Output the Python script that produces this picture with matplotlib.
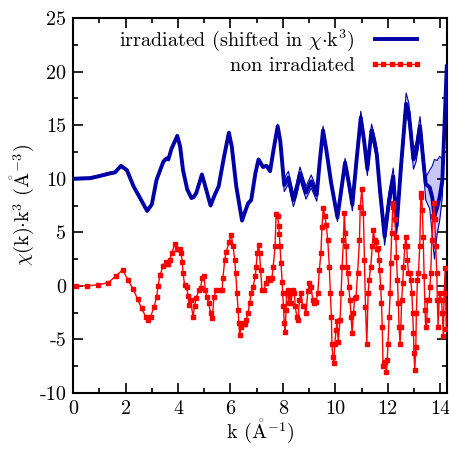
import numpy as np
import matplotlib
matplotlib.use('Agg')
import matplotlib.pyplot as plt
from matplotlib.lines import Line2D

plt.rcParams['font.family'] = ['cmr10', 'DejaVu Serif']
plt.rcParams['mathtext.fontset'] = 'cm'
plt.rcParams['axes.unicode_minus'] = False
plt.rcParams['axes.formatter.use_mathtext'] = False

# irradiated sample (already shifted by +10 in chi*k^3)
blue_k = [0.0, 0.64, 1.0, 1.4, 1.6, 1.82, 2.05, 2.3, 2.55, 2.82, 3.0, 3.18, 3.44, 3.56,
          3.63, 3.75, 3.97, 4.08, 4.19, 4.35, 4.51, 4.6, 4.7, 4.91, 5.05, 5.24, 5.4, 5.55,
          5.75, 5.94, 6.05, 6.22, 6.44, 6.67, 6.79, 6.95, 7.07, 7.24, 7.38, 7.51, 7.65,
          7.8, 7.9, 8.05, 8.21, 8.4, 8.52, 8.65, 8.88, 9.08, 9.29, 9.4, 9.53, 9.65, 9.84,
          10.08, 10.2, 10.37, 10.5, 10.65, 10.8, 10.97, 11.1, 11.22, 11.38, 11.48, 11.58,
          11.7, 11.88, 12.05, 12.21, 12.34, 12.5, 12.7, 12.8, 12.98, 13.08, 13.23, 13.36,
          13.45, 13.6, 13.7, 13.78, 13.88, 13.98, 14.08, 14.18, 14.25]
blue_y = [10.0, 10.05, 10.25, 10.5, 10.6, 11.2, 10.8, 9.3, 8.2, 7.0, 7.6, 9.9, 11.6, 11.9,
          11.8, 12.8, 14.0, 13.0, 10.8, 9.0, 8.2, 8.3, 8.7, 10.4, 9.2, 7.5, 8.5, 9.3,
          12.0, 14.3, 13.0, 9.3, 6.1, 7.7, 8.0, 10.5, 11.8, 11.1, 11.2, 10.7, 12.8,
          14.9, 13.5, 9.4, 10.1, 8.0, 9.0, 10.5, 8.7, 9.75, 8.5, 11.5, 14.5, 12.8, 9.6,
          6.4, 8.5, 11.5, 9.8, 7.6, 11.5, 15.7, 13.5, 10.9, 14.5, 13.6, 12.3,
          9.0, 4.6, 8.0, 10.2, 5.6, 11.0, 17.0, 16.2, 11.8, 12.5, 14.9, 11.6,
          9.5, 9.2, 8.2, 6.5, 7.3, 8.3, 9.8, 16.0, 20.5]
blue_dn = [0.1] * 40 + [0.2, 0.2, 0.2, 0.6, 0.6, 0.6, 0.6, 0.6, 0.6, 0.6, 0.6, 0.4, 0.4,
           0.4, 0.4, 0.4, 0.4, 0.4, 0.5, 0.6, 0.6, 0.6, 0.6, 0.6, 0.6, 0.6, 0.6, 0.8, 0.8,
           0.8, 0.8, 0.8, 0.9, 1.0, 0.9, 0.9, 0.9, 0.9, 0.9, 1.5, 2.0, 3.5, 4.0, 2.5,
           2.2, 1.5, 0.8, 0.5]
blue_up = [0.1] * 40 + [0.2, 0.2, 0.2, 0.6, 0.6, 0.6, 0.6, 0.6, 0.6, 0.6, 0.6, 0.4, 0.4,
           0.4, 0.4, 0.4, 0.4, 0.4, 0.5, 0.6, 0.6, 0.6, 0.6, 0.6, 0.6, 0.6, 0.6, 0.8, 0.8,
           0.8, 0.8, 0.8, 0.9, 1.0, 0.9, 0.9, 0.9, 0.9, 0.9, 0.6, 1.6, 3.0, 5.3, 4.4,
           3.8, 2.0, 0.8, 0.5]

# non irradiated sample
red_k = [0.1, 0.51, 0.95, 1.34, 1.63, 1.89, 2.08, 2.29, 2.46, 2.61, 2.77, 2.86, 2.95,
         3.08, 3.18, 3.24, 3.31, 3.44, 3.53, 3.63, 3.68, 3.77, 3.87, 3.97, 4.06, 4.12,
         4.16, 4.19, 4.25, 4.33, 4.38, 4.42, 4.48, 4.57, 4.63, 4.69, 4.79, 4.86, 4.92,
         4.99, 5.04, 5.1, 5.17, 5.24, 5.31, 5.37, 5.46, 5.59, 5.68, 5.71, 5.78, 5.84,
         5.94, 6.03, 6.1, 6.16, 6.2, 6.25, 6.29, 6.32, 6.35, 6.41, 6.48, 6.54, 6.6,
         6.67, 6.73, 6.79, 6.86, 6.95, 6.98, 7.02, 7.07, 7.11, 7.15, 7.2, 7.28, 7.37,
         7.42, 7.51, 7.58, 7.63, 7.7, 7.74, 7.8, 7.84, 7.86, 7.89, 7.93, 7.97, 7.99,
         8.02, 8.05, 8.08, 8.12, 8.14, 8.18, 8.22, 8.27, 8.31, 8.37, 8.44, 8.47, 8.53,
         8.58, 8.63, 8.69, 8.76, 8.82, 8.88, 8.95, 9.01, 9.07, 9.14, 9.2, 9.26, 9.33,
         9.39, 9.45, 9.49, 9.54, 9.6, 9.65, 9.71, 9.77, 9.81, 9.85, 9.87, 9.9, 9.94,
         9.98, 10.03, 10.06, 10.11, 10.18, 10.22, 10.26, 10.31, 10.34, 10.38, 10.41,
         10.43, 10.47, 10.51, 10.56, 10.6, 10.64, 10.69, 10.74, 10.79, 10.85, 10.92,
         10.95, 11.01, 11.07, 11.11, 11.15, 11.2, 11.25, 11.29, 11.35, 11.41, 11.45,
         11.5, 11.54, 11.58, 11.63, 11.67, 11.69, 11.73, 11.76, 11.79, 11.82, 11.86,
         11.9, 11.95, 11.98, 12.01, 12.05, 12.09, 12.11, 12.15, 12.19, 12.21, 12.27,
         12.31, 12.33, 12.37, 12.4, 12.43, 12.47, 12.5, 12.53, 12.57, 12.6, 12.65,
         12.69, 12.72, 12.75, 12.79, 12.84, 12.88, 12.92, 12.95, 12.98, 13.0, 13.03,
         13.07, 13.09, 13.13, 13.17, 13.22, 13.26, 13.28, 13.32, 13.35, 13.39, 13.42,
         13.45, 13.49, 13.51, 13.58, 13.61, 13.64, 13.68, 13.72, 13.77, 13.79, 13.83,
         13.87, 13.89, 13.92, 13.96, 13.99, 14.05, 14.08, 14.12, 14.15, 14.19, 14.23]
red_y = [0.0, 0.0, 0.1, 0.3, 0.93, 1.5, 0.56, -0.3, -1.25, -2.1, -2.9, -3.2, -2.9,
         -2.0, -1.06, 0.0, 1.0, 1.9, 2.2, 2.0, 2.43, 3.1, 3.9, 3.4, 3.4, 3.05,
         2.2, 1.2, 0.06, -0.06, -0.93, -1.8, -1.3, -2.9, -1.9, -1.15, -0.4, -0.2, 0.7,
         0.9, -0.37, -1.06, -1.6, -2.55, -3.0, -1.0, -0.37, -0.37, -0.37, 0.7, 2.4, 3.2,
         4.05, 4.77, 3.7, 2.43, 1.2, -0.7, -2.24, -3.5, -4.6, -3.8, -3.5, -3.6, -3.2,
         -2.5, -1.6, -0.7, -0.06, 0.9, 1.8, 3.05, 3.8, 3.05, 1.5, -0.37, -0.37, 0.3,
         0.7, 0.56, 0.7, 1.8, 3.7, 6.7, 6.5, 5.6, 4.86, 3.7, 2.1, 0.4, -0.7,
         -1.9, -3.5, -4.3, -2.24, -0.7, -0.37, -1.6, -0.7, -1.56, -0.37, -0.7, -1.9, -2.9,
         -3.2, -1.3, -0.7, -1.9, -1.9, -2.55, -0.5, 0.25, -0.06, -1.3, -1.6, -1.5, -0.7,
         1.5, 3.05, 5.5, 7.3, 6.5, 5.7, 4.3, 1.8, -0.7, -2.9, -5.4, -6.6, -7.2,
         -5.4, -4.1, -3.3, -5.2, -3.2, -0.7, 1.8, 4.3, 6.8, 4.9, 3.7,
         1.8, 1.2, -0.06, -1.3, -2.9, -4.4, -2.55, -1.15, -1.0, 1.2, 4.3,
         7.4, 9.0, 6.8, 2.4, -2.0, -5.4, -0.7, 0.56, 1.8, 3.7, 5.2,
         4.3, 4.1, 3.4, 3.5, 2.4, 1.5, -0.06, -1.6, -3.8, -7.5, -7.2,
         -7.1, -8.0, -6.9, -5.4, -2.9, -0.7, 2.1, 4.9, 7.4, 7.7, 6.2,
         4.6, 2.7, 0.56, -1.6, -3.8, -5.4, -3.8, -1.3, 0.25, 1.8, 3.7,
         4.6, 3.7, 2.4, 1.2, 1.2, 0.56, -0.7, -2.55, -4.4, -6.3, -7.85,
         -5.7, -2.55, 0.56, 1.2, 3.7, 8.3, 8.7, 7.1, 4.6, 0.9, -2.24,
         -3.8, -3.2, -1.3, -1.3, -0.06, 1.2, 4.3, 6.5, 7.7, 6.2, 3.7,
         1.2, -1.3, -3.8, -1.3, -0.7, -1.3, -2.55, -4.7, -0.7, 1.65, -4.0]
red_err = 0.1

x_ticks = [0, 2, 4, 6, 8, 10, 12, 14]
y_ticks = [-10, -5, 0, 5, 10, 15, 20, 25]

FS = 14.5
BLUE = '#0000a8'
RED = '#ff0000'

blue_k = np.array(blue_k)
blue_y = np.array(blue_y)
lo = blue_y - np.array(blue_dn)
hi = blue_y + np.array(blue_up)

fig = plt.figure(figsize=(4.49, 4.51), dpi=100)
ax = fig.add_axes([0.163, 0.1286, 0.832, 0.8314])

ax.fill_between(blue_k, lo, hi, color='#c8c8f8', lw=0, zorder=1)
ax.plot(blue_k, lo, color=BLUE, lw=0.8, zorder=2)
ax.plot(blue_k, hi, color=BLUE, lw=0.8, zorder=2)
blue_line, = ax.plot(blue_k, blue_y, color=BLUE, lw=2.8, zorder=3)
ax.errorbar(red_k, red_y, yerr=red_err, color=RED, lw=1.0, marker='s',
            markersize=2.5, capsize=1.5, elinewidth=0.7, zorder=4)

ax.set_xlim(0, 14.25)
ax.set_ylim(-10, 25)
ax.set_xticks(x_ticks)
ax.set_yticks(y_ticks)
ax.set_xticks(np.arange(1, 15, 2), minor=True)
ax.set_yticks(np.arange(-7.5, 25, 5), minor=True)
ax.tick_params(which='both', direction='in', top=True, right=True, labelsize=FS, width=1.2)
ax.tick_params(which='major', length=7, pad=5)
ax.tick_params(which='minor', length=3.5)
for s in ax.spines.values():
    s.set_linewidth(1.5)

ang = r'$\mathring{\mathrm{A}}$'
ax.set_xlabel('k (' + ang + r'$^{-1}$)', fontsize=FS, labelpad=0)
ax.set_ylabel(r'$\chi$(k)$\cdot$k$^3$ (' + ang + r'$^{-3}$)', fontsize=FS, labelpad=2)

# key entry for the red curve: plain line with square points
red_key = Line2D([], [], color=RED, lw=1.0, marker='s', markersize=2.5)

# markerfirst=False right-aligns the entries, like gnuplot's key
ax.legend([blue_line, red_key],
          [r'irradiated (shifted in $\chi{\cdot}$k$^3$)', 'non irradiated'],
          loc='upper right', frameon=False, markerfirst=False, fontsize=FS,
          handlelength=2.7, handletextpad=0.7, labelspacing=0.2, numpoints=6,
          borderaxespad=0, borderpad=0, bbox_to_anchor=(0.937, 0.975))

fig.savefig('out.png', dpi=100)
